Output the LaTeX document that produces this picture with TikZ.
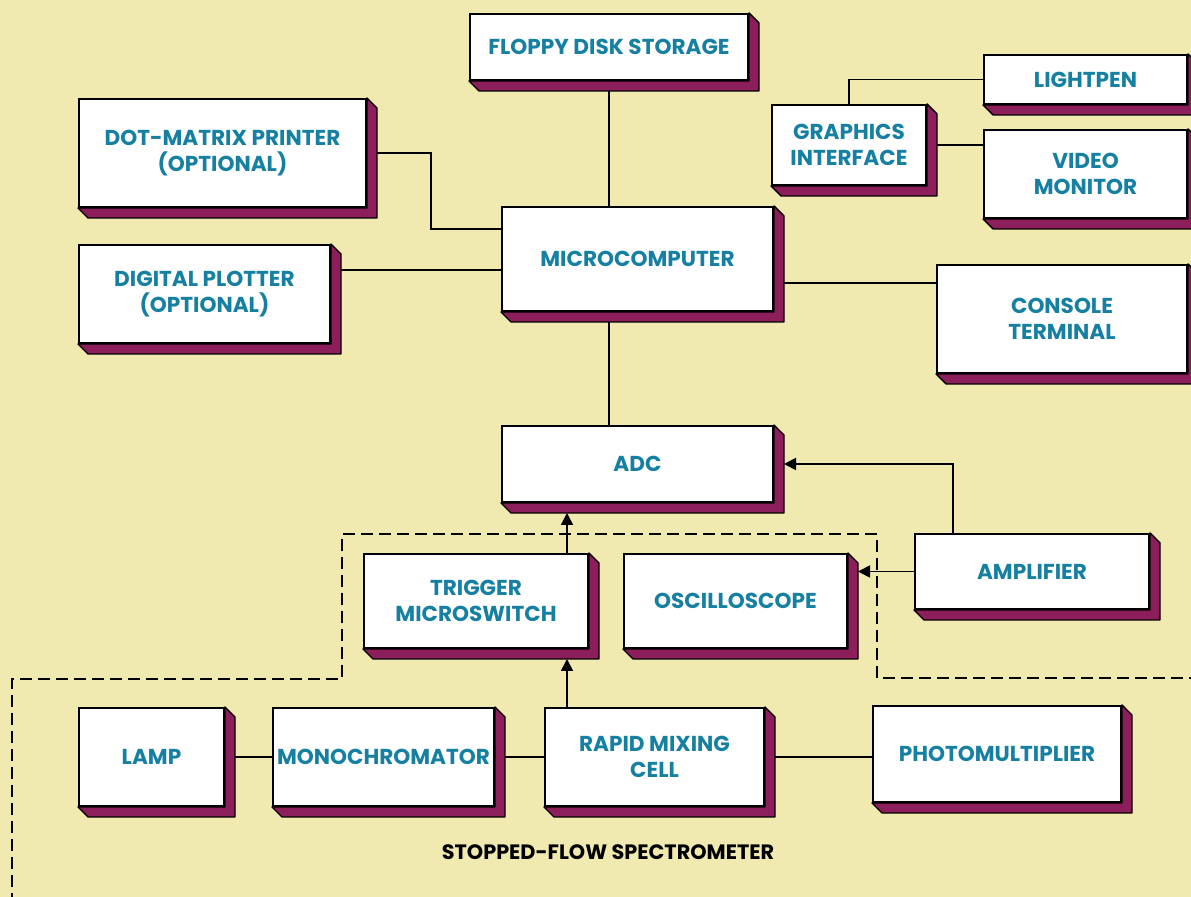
\documentclass[tikz,border=0pt]{standalone}
\usepackage{fontspec}
\usepackage{tikz}
\usetikzlibrary{arrows.meta, calc, positioning}
\newfontfamily\labelfont{Poppins}
\definecolor{paper}{RGB}{240,233,176}
\definecolor{tealink}{RGB}{22,128,162}
\definecolor{plum}{RGB}{141,30,92}
\newcommand\slab{5pt}
% side and bottom faces of a block
\newcommand\extrude[1]{%
  \filldraw[fill=plum, draw=black, line width=0.7pt, line join=round]
    (#1.north east) -- ++(\slab,-\slab)
    -- ($(#1.south east)+(\slab,-\slab)$)
    -- ($(#1.south west)+(\slab,-\slab)$)
    -- (#1.south west) -- (#1.south east) -- cycle;}

\begin{document}
\begin{tikzpicture}[
  x = 0.5pt, y = -0.5pt,
  > = {Triangle[length=6pt, width=6pt]},
  block/.style = {draw, fill=white, line width=1pt, inner sep=0pt, align=center,
    text=tealink, font=\labelfont\bfseries\fontsize{10.8}{13}\selectfont},
  wh/.style 2 args = {minimum width=#1*0.5pt, minimum height=#2*0.5pt},
  link/.style = {line width=0.9pt},
  flow/.style = {->, line width=0.9pt}
]
  \useasboundingbox (0,0) rectangle (1191,897);
  \clip (0,0) rectangle (1191,897);
  \fill[paper] (0,0) rectangle (1191,897);

  % spectrometer enclosure
  \draw[line width=1pt, dash pattern=on 6pt off 3pt]
    (12,905) -- (12,679) -- (342,679) -- (342,534) -- (877,534)
    -- (877,678) -- (1200,678);

  % computer side
  \node[block, wh={278}{66}]  (floppy)   at (609,47)     {FLOPPY DISK STORAGE};
  \node[block, wh={287}{108}] (printer)  at (222.5,153)  {DOT-MATRIX PRINTER\\(OPTIONAL)};
  \node[block, wh={251}{98}]  (plotter)  at (204.5,294)  {DIGITAL PLOTTER\\(OPTIONAL)};
  \node[block, wh={271}{104}] (micro)    at (637.5,259)  {MICROCOMPUTER};
  \node[block, wh={154}{80}]  (graphics) at (849,145)    {GRAPHICS\\INTERFACE};
  \node[block, wh={203}{49}]  (lightpen) at (1085.5,79.5) {LIGHTPEN};
  \node[block, wh={203}{88}]  (video)    at (1085.5,174) {VIDEO\\MONITOR};
  \node[block, wh={250}{108}] (console)  at (1062,319)   {CONSOLE\\TERMINAL};
  \node[block, wh={271}{76}]  (adc)      at (637.5,464)  {ADC};
  \node[block, wh={234}{75}]  (amp)      at (1032,571.5) {AMPLIFIER};

  % stopped-flow spectrometer
  \node[block, wh={224}{94}]  (trig)  at (476,601)   {TRIGGER\\MICROSWITCH};
  \node[block, wh={223}{94}]  (osc)   at (735.5,601) {OSCILLOSCOPE};
  \node[block, wh={145}{98}]  (lamp)  at (151.5,757) {LAMP};
  \node[block, wh={221}{98}]  (mono)  at (383.5,757) {MONOCHROMATOR};
  \node[block, wh={219}{98}]  (rapid) at (654.5,757) {RAPID MIXING\\CELL};
  \node[block, wh={248}{96}]  (photo) at (997,754)   {PHOTOMULTIPLIER};

  \node[font=\labelfont\bfseries\fontsize{10.4}{13}\selectfont] (sfs) at (608,852)
    {STOPPED-FLOW SPECTROMETER};

  \coordinate (spine) at (609,0);
  \coordinate (tap) at (567,0);

  % connections
  \draw[link] (floppy.south) -- (micro.north -| spine);
  \draw[link] (micro.south -| spine) -- (adc.north -| spine);
  \draw[link] (printer.east) -- ++(32pt,0) |- ([yshift=15pt]micro.west);
  \draw[link] ([yshift=12pt]plotter.east) -- ([yshift=12pt]plotter.east -| micro.west);
  \draw[link] ([yshift=-12pt]micro.east) -- ([yshift=-12pt]micro.east -| console.west);
  \draw[link] (graphics.north) |- (lightpen.west);
  \draw[link] (graphics.east) -- (graphics.east -| video.west);
  \draw[flow] ([xshift=19.5pt]amp.north west) |- ($(adc.east)+(\slab,0)$);
  \draw[flow] (amp.west) -- ($(amp.west -| osc.east)+(\slab,0)$);
  \draw[flow] (trig.north -| tap) -- ($(adc.south -| tap)+(0,-\slab)$);
  \draw[flow] (rapid.north -| tap) -- ($(trig.south -| tap)+(0,-\slab)$);
  \draw[link] (lamp.east) -- (mono.west);
  \draw[link] (mono.east) -- (rapid.west);
  \draw[link] (rapid.east) -- (rapid.east -| photo.west);

  \foreach \b in {floppy, printer, plotter, micro, graphics, lightpen, video,
      console, adc, amp, trig, osc, lamp, mono, rapid, photo}
    {\extrude{\b}}
\end{tikzpicture}
\end{document}
